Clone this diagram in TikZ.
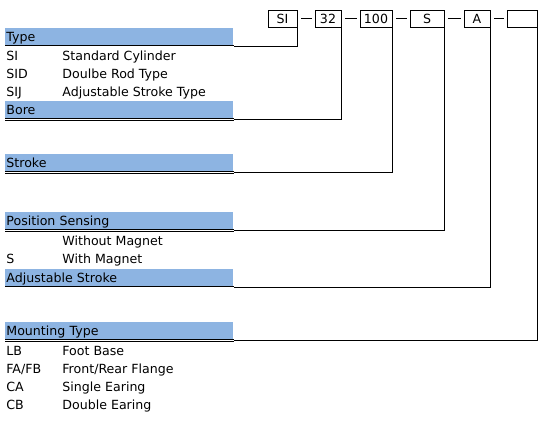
\documentclass[tikz,border=0pt]{standalone}
\usepackage{fontspec}
\setmainfont{DejaVu Sans}
\usepackage{xcolor}
\usepackage{tikz}
\usetikzlibrary{positioning}
\definecolor{barblue}{RGB}{141,180,226}

\begin{document}
\begin{tikzpicture}[x=1pt, y=-1pt, line width=0.8pt,
    every node/.style={font=\fontsize{12.6}{14}\selectfont, inner sep=0pt},
    codebox/.style={draw, minimum height=17pt, text height=9.2pt, text depth=0pt},
    hdr/.style={fill=barblue, anchor=south west, text width=226pt, inner xsep=1pt,
      minimum height=18pt, text height=9.5pt, text depth=0pt},
    rule/.style={double=white, double distance=0.9pt, line width=0.6pt},
    gap/.style={shorten <=4pt, shorten >=3pt},
    entry/.style={anchor=base west}]
  \useasboundingbox (0,0) rectangle (559,421);

  % order code boxes
  \node[codebox, minimum width=29pt] (SI) at (282.5,18.5) {SI};
  \node[codebox, minimum width=26pt] (Bore) at (328,18.5) {32};
  \node[codebox, minimum width=32pt] (Stroke) at (376,18.5) {100};
  \node[codebox, minimum width=34pt] (Sense) at (427,18.5) {S};
  \node[codebox, minimum width=26pt] (Adjust) at (477,18.5) {A};
  \node[codebox, minimum width=30pt] (Mount) at (522,18.5) {};

  \draw[gap] (SI) -- (Bore);
  \draw[gap] (Bore) -- (Stroke);
  \draw[gap] (Stroke) -- (Sense);
  \draw[gap] (Sense) -- (Adjust);
  \draw[gap] (Adjust) -- (Mount);

  % header bars
  \node[hdr] (TypeBar) at (5,46) {Type};
  \node[hdr] (BoreBar) at (5,119.5) {Bore};
  \node[hdr] (StrokeBar) at (5,172.5) {Stroke};
  \node[hdr] (SenseBar) at (5,230.5) {Position Sensing};
  \node[hdr] (AdjustBar) at (5,287) {Adjustable Stroke};
  \node[hdr] (MountBar) at (5,340.5) {Mounting Type};

  \draw[rule] (TypeBar.south west) -- (TypeBar.south east);
  \draw[rule] (BoreBar.south west) -- (BoreBar.south east);
  \draw[rule] (StrokeBar.south west) -- (StrokeBar.south east);
  \draw[rule] (SenseBar.south west) -- (SenseBar.south east);
  \draw[rule] (AdjustBar.south west) -- (AdjustBar.south east);
  \draw[rule] (MountBar.south west) -- (MountBar.south east);

  % leaders
  \draw (SI.south east) |- (TypeBar.south east);
  \draw (Bore.south east) |- (BoreBar.south east);
  \draw (Stroke.south east) |- (StrokeBar.south east);
  \draw (Sense.south east) |- (SenseBar.south east);
  \draw (Adjust.south east) |- (AdjustBar.south east);
  \draw (Mount.south east) |- (MountBar.south east);

  % type entries
  \node[entry] (siA) at (6,60.5) {SI};
  \node[entry] (siB) at (62,60.5) {Standard Cylinder};
  \node[entry] (sidA) at (6,78.5) {SID};
  \node[entry] (sidB) at (62,78.5) {Doulbe Rod Type};
  \node[entry] (sijA) at (6,96.5) {SIJ};
  \node[entry] (sijB) at (62,96.5) {Adjustable Stroke Type};

  % sensing entries
  \node[entry] (noMag) at (62,245) {Without Magnet};
  \node[entry] (magA) at (6,263) {S};
  \node[entry] (magB) at (62,263) {With Magnet};

  % mounting entries
  \node[entry] (lbA) at (6,355.5) {LB};
  \node[entry] (lbB) at (62,355.5) {Foot Base};
  \node[entry] (faA) at (6,373.5) {FA/FB};
  \node[entry] (faB) at (62,373.5) {Front/Rear Flange};
  \node[entry] (caA) at (6,391.5) {CA};
  \node[entry] (caB) at (62,391.5) {Single Earing};
  \node[entry] (cbA) at (6,409.5) {CB};
  \node[entry] (cbB) at (62,409.5) {Double Earing};
\end{tikzpicture}
\end{document}
